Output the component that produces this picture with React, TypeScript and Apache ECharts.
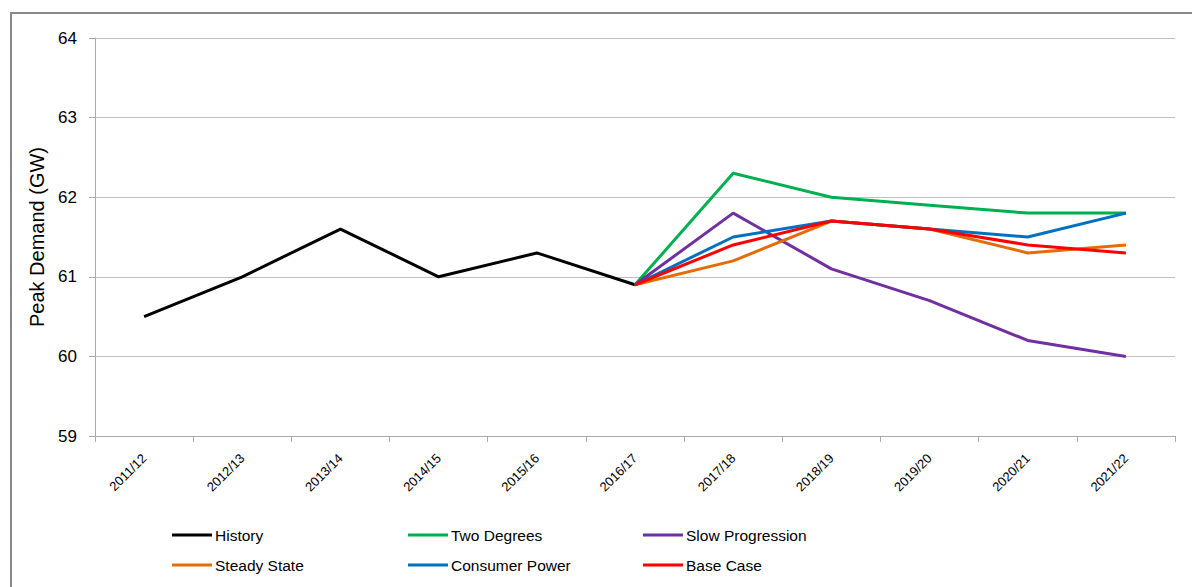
import React, { useEffect, useRef } from "react";
import * as echarts from "echarts";

const categories = ["2011/12", "2012/13", "2013/14", "2014/15", "2015/16", "2016/17", "2017/18", "2018/19", "2019/20", "2020/21", "2021/22"];
const history = [60.5, 61.0, 61.6, 61.0, 61.3, 60.9, null, null, null, null, null];
const twoDegrees = [null, null, null, null, null, 60.9, 62.3, 62.0, 61.9, 61.8, 61.8];
const slowProgression = [null, null, null, null, null, 60.9, 61.8, 61.1, 60.7, 60.2, 60.0];
const steadyState = [null, null, null, null, null, 60.9, 61.2, 61.7, 61.6, 61.3, 61.4];
const consumerPower = [null, null, null, null, null, 60.9, 61.5, 61.7, 61.6, 61.5, 61.8];
const baseCase = [null, null, null, null, null, 60.9, 61.4, 61.7, 61.6, 61.4, 61.3];
const seriesNames = ["History", "Two Degrees", "Slow Progression", "Steady State", "Consumer Power", "Base Case"];
const seriesColors = ["#000000", "#00B050", "#7030A0", "#E36C09", "#0070C0", "#FF0000"];
const seriesData = [history, twoDegrees, slowProgression, steadyState, consumerPower, baseCase];

export default function App() {
  const ref = useRef<HTMLDivElement>(null);
  useEffect(() => {
    const chart = echarts.init(ref.current!, null, { renderer: "svg" });
    const legendPos = [
      [172, 527], [408, 527], [643, 527],
      [172, 557], [408, 557], [643, 557],
    ];
    chart.setOption({
      animation: false,
      graphic: [
        {
          type: "rect",
          shape: { x: 11, y: 13, width: 1300, height: 700 },
          style: { fill: "none", stroke: "#888888", lineWidth: 2 },
          silent: true,
        },
      ],
      grid: { left: 95, right: 17, top: 38, bottom: 151 },
      legend: seriesNames.map((n, i) => ({
        data: [n],
        left: legendPos[i][0],
        top: legendPos[i][1],
        icon: "rect",
        itemWidth: 40,
        itemHeight: 3,
        itemGap: 0,
        padding: 0,
        textStyle: { fontFamily: "Liberation Sans, Arial", fontSize: 15.5, color: "#000", padding: [0, 0, 0, -2] },
      })),
      xAxis: {
        type: "category",
        data: categories,
        boundaryGap: true,
        axisLine: { lineStyle: { color: "#AAAAAA", width: 1 } },
        axisTick: { show: true, length: 6, lineStyle: { color: "#AAAAAA" } },
        axisLabel: { rotate: 45, fontFamily: "Liberation Sans, Arial", fontSize: 13, color: "#000", margin: 20 },
      },
      yAxis: {
        type: "value",
        min: 59,
        max: 64,
        interval: 1,
        name: "Peak Demand (GW)",
        nameLocation: "middle",
        nameGap: 36,
        nameTextStyle: { fontFamily: "Liberation Sans, Arial", fontSize: 20, color: "#000" },
        axisLine: { show: true, lineStyle: { color: "#AAAAAA" } },
        axisTick: { show: true, length: 6, lineStyle: { color: "#AAAAAA" } },
        splitLine: { lineStyle: { color: "#C0C0C0" } },
        axisLabel: { fontFamily: "Liberation Sans, Arial", fontSize: 17, color: "#000", margin: 18 },
      },
      series: seriesNames.map((n, i) => ({
        name: n,
        type: "line",
        data: seriesData[i],
        color: seriesColors[i],
        showSymbol: false,
        symbol: "none",
        lineStyle: { width: 3, color: seriesColors[i] },
        connectNulls: false,
      })),
    });
    return () => chart.dispose();
  }, []);
  return <div ref={ref} style={{ position: "absolute", left: 0, top: 0, width: 1192, height: 587, background: "#fff" }} />;
}
